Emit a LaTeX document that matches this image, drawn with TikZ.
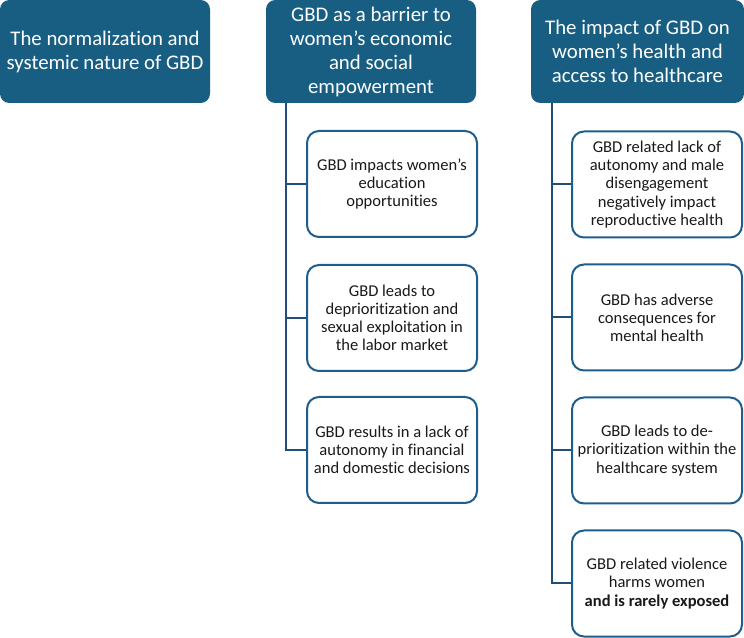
\documentclass[tikz,border=0pt]{standalone}
\usepackage{fontspec}
\setmainfont[Ligatures=NoCommon]{Carlito}
\usetikzlibrary{positioning, calc}
\definecolor{cHead}{HTML}{185E83}
\definecolor{cEdge}{HTML}{1F5E8C}
\definecolor{cLink}{HTML}{1F4E79}

\begin{document}
\begin{tikzpicture}[
  x=0.75pt, y=-0.75pt,
  head/.style={rounded corners=7pt, fill=cHead, draw=none, text=white,
               align=center, font=\fontsize{15.6}{18}\selectfont,
               minimum height=77.25pt, inner sep=2pt},
  item/.style={rounded corners=9pt, draw=cEdge, line width=1.5pt, fill=white,
               align=center, font=\fontsize{12.4}{13.6}\selectfont,
               text=black!90, minimum width=127.5pt, minimum height=79.5pt,
               inner sep=2pt},
  link/.style={draw=cLink, line width=1.5pt},
]
\useasboundingbox (0,0) rectangle (744,638);

% ====================== headers ========================================
\node[head, minimum width=157.5pt] (h1) at (105,51.5)
  {The normalization and\\systemic nature of GBD};
\node[head, minimum width=157.5pt] (h2) at (371,51.5)
  {GBD as a barrier to\\women’s economic\\and social\\empowerment};
\node[head, minimum width=159.75pt] (h3) at (637.5,51.5)
  {The impact of GBD on\\women’s health and\\access to healthcare};

% ====================== column 2: empowerment ==========================
\node[item] (e1) at (392,184) {GBD impacts women’s\\education\\opportunities};
\node[item] (e2) at (392,318) {GBD leads to\\deprioritization and\\sexual exploitation in\\the labor market};
\node[item] (e3) at (392,450) {GBD results in a lack of\\autonomy in financial\\and domestic decisions};

\coordinate (t2) at (286,103);
\draw[link] (t2) -- (t2 |- e3.west) -- (e3.west);
\draw[link] (t2 |- e1.west) -- (e1.west);
\draw[link] (t2 |- e2.west) -- (e2.west);

% ====================== column 3: health ===============================
\node[item] (m1) at (657,184.5) {GBD related lack of\\autonomy and male\\disengagement\\negatively impact\\reproductive health};
\node[item] (m2) at (657,317.5) {GBD has adverse\\consequences for\\mental health};
\node[item] (m3) at (657,450.5) {GBD leads to de-\\prioritization within the\\healthcare system};
\node[item] (m4) at (657,583.5) {GBD related violence\\harms women\\\textbf{and is rarely exposed}};

\coordinate (t3) at (552,103);
\draw[link] (t3) -- (t3 |- m4.west) -- (m4.west);
\foreach \n in {m1,m2,m3}
  \draw[link] (t3 |- \n.west) -- (\n.west);

\end{tikzpicture}
\end{document}
